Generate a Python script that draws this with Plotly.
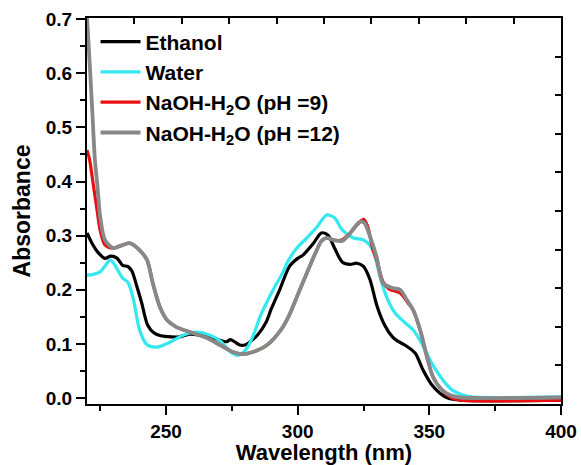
import plotly.graph_objects as go

# ---- data ----
ethanol_x = [220, 222, 224, 226.8, 229, 231.5, 233.5, 235.5, 237, 239, 240.8, 243, 245.5, 248, 252, 255,
             259, 263, 268, 271, 273, 274.5, 276, 278, 280, 282, 285, 288, 290, 293, 297, 300, 302, 306,
             309, 311.5, 314, 317, 320, 322.5, 325, 327.5, 330, 333, 336, 338, 341, 344.6, 347.6, 351,
             354, 357, 362, 400]
ethanol_y = [0.305, 0.285, 0.270, 0.258, 0.262, 0.258, 0.245, 0.243, 0.235, 0.205, 0.175, 0.135, 0.120,
             0.115, 0.113, 0.113, 0.118, 0.116, 0.111, 0.106, 0.104, 0.108, 0.104, 0.098, 0.098, 0.104,
             0.118, 0.140, 0.165, 0.198, 0.244, 0.258, 0.264, 0.286, 0.305, 0.301, 0.277, 0.251, 0.247,
             0.249, 0.243, 0.218, 0.172, 0.135, 0.113, 0.105, 0.097, 0.083, 0.052, 0.024, 0.009, 0.000,
             -0.004, -0.004]

water_x = [220, 222, 225, 227, 228.7, 230, 231.5, 233.5, 235.5, 237.5, 240, 242.7, 246.5, 251.5, 256.5,
           261.8, 266.7, 270.5, 274.3, 277, 279, 281, 283.5, 285.7, 290.7, 294.5, 296, 299.7, 303.5,
           307.3, 311, 314, 317, 321, 325, 327.5, 329, 331.3, 333.9, 337, 340.8, 343.8, 347.2, 350.3,
           353.3, 356, 358.6, 362.4, 366, 400]
water_y = [0.227, 0.228, 0.233, 0.245, 0.255, 0.250, 0.238, 0.222, 0.214, 0.185, 0.125, 0.099, 0.094,
           0.103, 0.116, 0.122, 0.116, 0.106, 0.086, 0.079, 0.083, 0.094, 0.120, 0.150, 0.200, 0.233,
           0.250, 0.277, 0.296, 0.316, 0.338, 0.333, 0.310, 0.296, 0.292, 0.282, 0.268, 0.224, 0.185,
           0.157, 0.139, 0.126, 0.100, 0.070, 0.046, 0.028, 0.015, 0.006, 0.002, 0.002]

ph9_x = [220, 221, 222.3, 223.8, 225, 226.8, 229.9, 233.7, 236.3, 240, 242.8, 245, 247.7, 250.4, 254,
         259, 265.6, 270.5, 275.5, 279, 283, 288.4, 293.5, 296.5, 300.3, 303.5, 307.3, 309, 311, 313.4,
         316.8, 320, 323, 325, 326.5, 328.6, 330, 332.4, 334.8, 338.9, 342, 343.8, 346.5, 349.1, 351.4,
         354.8, 358.6, 362, 400]
ph9_y = [0.458, 0.440, 0.397, 0.348, 0.310, 0.283, 0.277, 0.283, 0.286, 0.273, 0.255, 0.212, 0.168,
         0.144, 0.131, 0.122, 0.111, 0.098, 0.085, 0.081, 0.085, 0.098, 0.125, 0.150, 0.194, 0.231,
         0.274, 0.290, 0.296, 0.292, 0.292, 0.305, 0.322, 0.330, 0.318, 0.274, 0.255, 0.215, 0.201,
         0.194, 0.175, 0.163, 0.126, 0.076, 0.039, 0.015, 0.000, -0.004, -0.004]

ph12_x = [219.8, 221, 222, 223, 224, 225, 226.8, 229.9, 233.7, 236.3, 240, 242.8, 245, 247.7, 250.4, 254,
          259, 265.6, 270.5, 275.5, 279, 283, 288.4, 293.5, 296.5, 300.3, 303.5, 307.3, 309, 311, 313.4,
          316.8, 320, 322, 323.7, 325.4, 327.5, 330, 332.4, 336.2, 338.9, 341.5, 343.8, 346.5, 349.1,
          351.4, 354.8, 358.6, 362, 400]
ph12_y = [0.720, 0.620, 0.530, 0.440, 0.390, 0.335, 0.292, 0.277, 0.283, 0.286, 0.273, 0.255, 0.212,
          0.168, 0.144, 0.131, 0.122, 0.111, 0.098, 0.085, 0.081, 0.085, 0.098, 0.125, 0.150, 0.194,
          0.231, 0.274, 0.290, 0.296, 0.292, 0.290, 0.305, 0.318, 0.326, 0.323, 0.298, 0.260, 0.212,
          0.203, 0.200, 0.181, 0.163, 0.126, 0.076, 0.039, 0.015, 0.004, 0.001, 0.001]

series_names = ["Ethanol", "Water", "NaOH-H<sub>2</sub>O (pH =9)", "NaOH-H<sub>2</sub>O (pH =12)"]
series_colors = ["#000000", "#33E8F0", "#E81010", "#888888"]
series_widths = [3.2, 3.2, 3.2, 3.8]

x_tick_vals = [250, 300, 350, 400]
x_minor_vals = [225, 275, 325, 375]
y_tick_vals = [0.0, 0.1, 0.2, 0.3, 0.4, 0.5, 0.6, 0.7]
y_minor_vals = [0.05, 0.15, 0.25, 0.35, 0.45, 0.55, 0.65]
frame_tick_vals = [1, 2, 3, 4, 5, 6, 7, 8, 9]

FONT = "Liberation Sans, Arial, sans-serif"

fig = go.Figure()
for xs, ys, name, color, w in zip(
        [ethanol_x, water_x, ph9_x, ph12_x],
        [ethanol_y, water_y, ph9_y, ph12_y],
        series_names, series_colors, series_widths):
    fig.add_trace(go.Scatter(x=xs, y=ys, mode="lines", name=name,
                             line=dict(color=color, width=w, shape="spline", smoothing=0.8)))

# invisible trace to hold the top/right frame axes
fig.add_trace(go.Scatter(x=[None], y=[None], xaxis="x2", yaxis="y2", showlegend=False,
                         hoverinfo="skip"))

fig.update_layout(
    width=581, height=465,
    margin=dict(l=87, r=20, t=18, b=61, autoexpand=False),
    paper_bgcolor="white", plot_bgcolor="white",
    font=dict(family=FONT, color="black"),
    showlegend=True,
    legend=dict(x=0.018, y=0.991, xanchor="left", yanchor="top",
                bgcolor="rgba(0,0,0,0)", borderwidth=0,
                font=dict(family=FONT, size=21, color="black", weight="bold"),
                tracegroupgap=0, itemwidth=40),
    xaxis=dict(range=[220, 400], showgrid=False, zeroline=False, automargin=False,
               showline=True, linecolor="black", linewidth=2,
               ticks="outside", ticklen=9, tickwidth=2, tickcolor="black",
               tickmode="array", tickvals=x_tick_vals,
               tickfont=dict(family=FONT, size=19, color="black", weight="bold"),
               minor=dict(tickmode="array", tickvals=x_minor_vals, ticks="outside",
                          ticklen=5, tickwidth=2, tickcolor="black"),
               title=dict(text="<b>Wavelength (nm)</b>", font=dict(family=FONT, size=22),
                          standoff=3)),
    yaxis=dict(range=[-0.011, 0.702], showgrid=False, zeroline=False, automargin=False,
               showline=True, linecolor="black", linewidth=2,
               ticks="outside", ticklen=9, tickwidth=2, tickcolor="black",
               tickmode="array", tickvals=y_tick_vals, tickformat=".1f",
               tickfont=dict(family=FONT, size=19, color="black", weight="bold"),
               minor=dict(tickmode="array", tickvals=y_minor_vals, ticks="outside",
                          ticklen=5, tickwidth=2, tickcolor="black"),
               title=dict(text="<b>Absorbance</b>", font=dict(family=FONT, size=23),
                          standoff=9)),
    xaxis2=dict(overlaying="x", side="top", range=[0, 10], showgrid=False, zeroline=False,
                showline=True, linecolor="black", linewidth=2, automargin=False,
                ticks="inside", ticklen=6, tickwidth=2, tickcolor="black",
                tickmode="array", tickvals=frame_tick_vals, showticklabels=False),
    yaxis2=dict(overlaying="y", side="right", range=[0, 10], showgrid=False, zeroline=False,
                showline=True, linecolor="black", linewidth=2, automargin=False,
                ticks="inside", ticklen=6, tickwidth=2, tickcolor="black",
                tickmode="array", tickvals=frame_tick_vals, showticklabels=False),
)

fig.write_html("out.html", config={"displayModeBar": False},
               post_script="document.body.style.margin='0';document.body.style.overflow='hidden';")
